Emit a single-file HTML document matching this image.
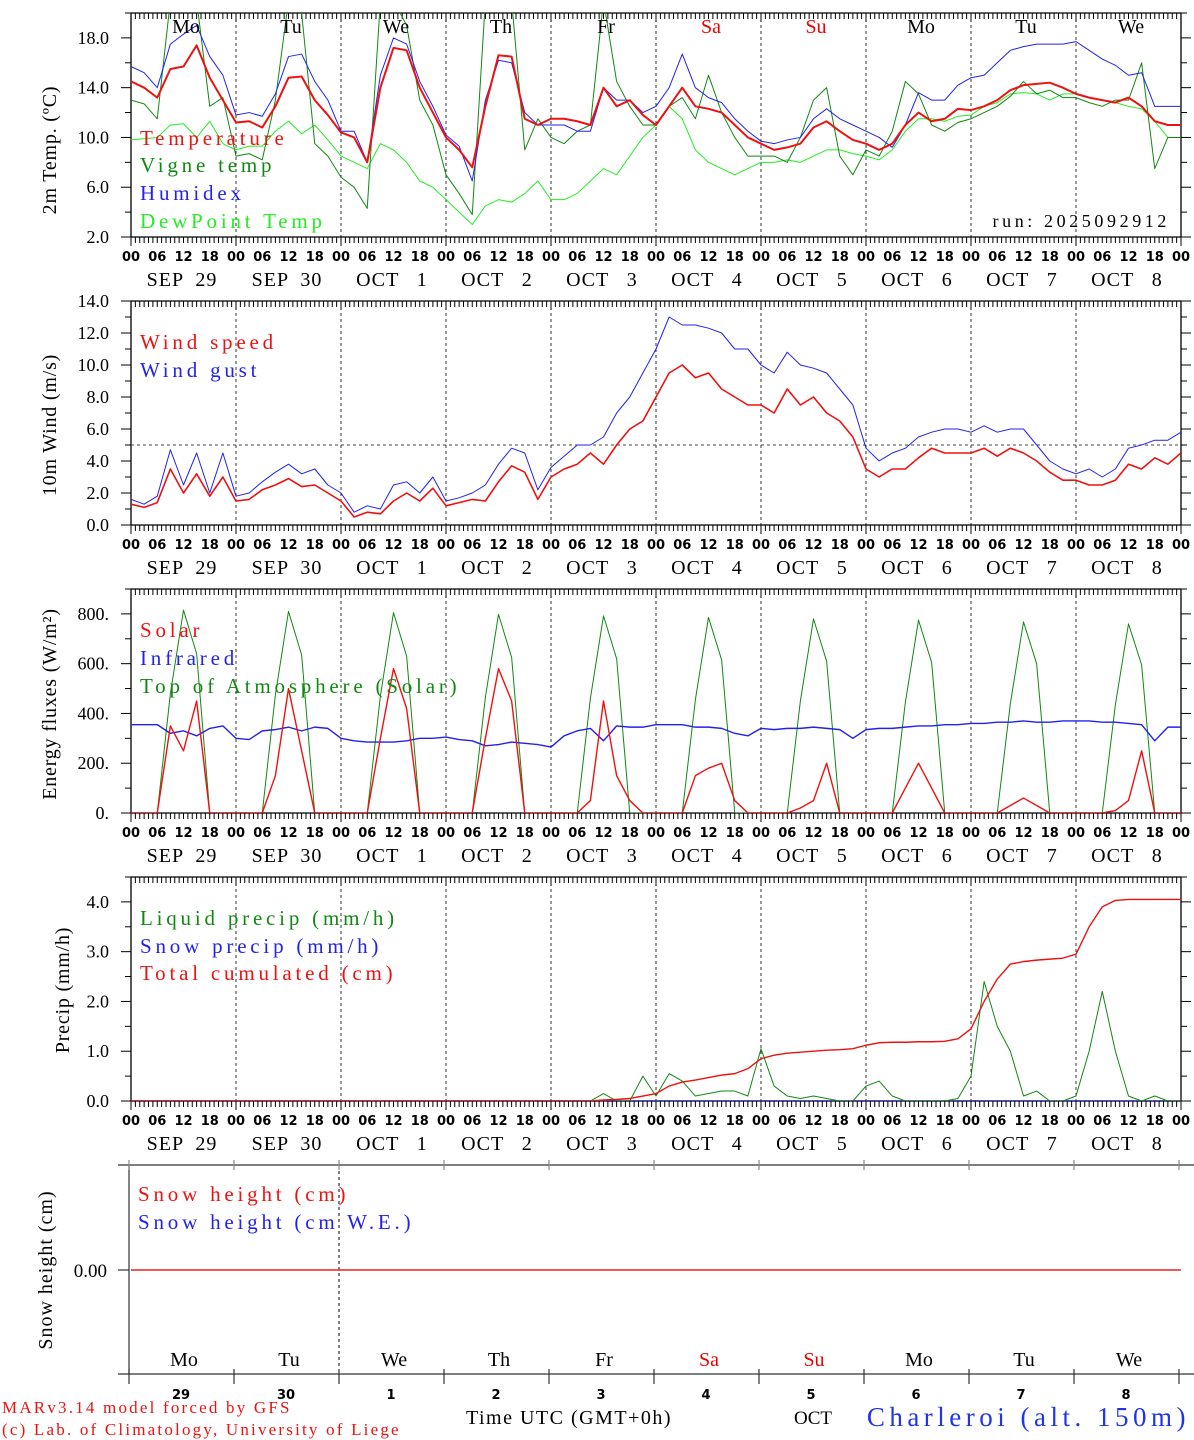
<!DOCTYPE html>
<html><head><meta charset="utf-8"><style>
html,body{margin:0;padding:0;background:#fff;}
svg{display:block;font-family:"Liberation Serif",serif;}
</style></head><body>
<svg id="chart" width="1194" height="1440" viewBox="0 0 1194 1440" xmlns="http://www.w3.org/2000/svg"></svg>
<script>
// ---- data (3-hourly, 81 points from SEP 29 00 UTC to OCT 9 00 UTC) ----
const dayNames = ["Mo","Tu","We","Th","Fr","Sa","Su","Mo","Tu","We"];
const dayColors = ["#000","#000","#000","#000","#000","#e00","#e00","#000","#000","#000"];
const dateLabels = ["SEP  29","SEP  30","OCT   1","OCT   2","OCT   3","OCT   4","OCT   5","OCT   6","OCT   7","OCT   8"];
const dayNums = ["29","30","1","2","3","4","5","6","7","8"];
const temperature = [14.5,14.0,13.2,15.5,15.7,17.4,14.8,13.0, 11.2,11.3,10.8,12.5,14.8,14.9,13.0,11.8, 10.4,10.0,8.0,14.0,17.2,17.0,14.0,12.0, 10.0,9.0,7.6,12.5,16.6,16.5,11.5,11.0, 11.5,11.5,11.3,11.0,14.0,12.5,13.0,11.8, 11.0,12.5,14.0,12.5,12.3,12.0,11.0,10.0, 9.5,9.0,9.2,9.5,10.8,11.3,10.5,9.8, 9.5,9.0,9.5,11.0,12.0,11.3,11.5,12.3, 12.2,12.5,13.0,13.8,14.2,14.3,14.4,14.0, 13.5,13.2,13.0,12.8,13.2,12.5,11.3,11.0, 11.0];
const humidex = [15.7,15.2,14.0,17.5,18.3,19.0,16.5,15.0, 11.8,12.0,11.7,13.5,16.5,16.7,14.5,13.0, 10.5,10.5,8.0,15.0,18.0,17.5,14.5,12.5, 10.2,9.3,6.5,13.0,16.2,16.0,12.0,11.0, 11.0,11.0,10.5,10.5,14.0,13.0,13.0,12.0, 12.5,14.0,16.7,14.0,13.2,12.8,11.5,10.5, 9.7,9.5,9.8,10.0,11.5,12.3,11.5,11.0, 10.5,10.0,9.2,11.0,13.6,13.0,13.0,14.2, 14.8,15.0,16.0,17.0,17.3,17.5,17.5,17.5, 17.7,17.0,16.3,15.8,15.0,15.2,12.5,12.5, 12.5];
const vigneTemp = [13.0,12.7,11.5,21,21,21,12.5,13.2, 8.5,8.7,8.2,13.0,21,20,9.5,8.5, 6.8,6.0,4.3,21,21,19,13.0,11.0, 7.0,5.5,3.8,21,21,21,9.0,11.5, 10.0,9.5,10.5,11.0,21,14.5,12.5,11.0, 11.0,12.5,13.2,11.5,15.0,12.0,10.0,8.5, 8.5,8.5,8.0,10.0,13.0,14.0,8.5,7.0, 9.0,8.5,10.5,14.5,13.5,11.0,10.5,11.2, 11.5,12.0,12.5,13.3,14.5,13.5,13.8,13.2, 13.2,12.8,12.5,13.0,13.0,16.0,7.5,10.0, 10.0];
const dewPoint = [9.8,9.9,10.0,11.0,11.1,10.0,11.3,9.5, 9.0,9.3,9.3,10.5,11.3,10.3,11.0,9.8, 8.5,8.0,7.5,9.5,9.0,8.0,6.5,6.0, 5.0,4.0,3.0,4.5,5.0,4.8,5.5,6.5, 5.0,5.0,5.5,6.5,7.5,7.0,8.5,10.0, 11.0,12.5,11.5,9.0,8.0,7.5,7.0,7.5, 8.0,8.0,8.2,8.0,8.5,9.0,9.0,8.7, 8.5,8.2,9.0,10.5,11.5,11.5,11.3,11.7, 11.8,12.5,12.8,13.5,13.6,13.5,13.0,13.5, 13.5,13.2,13.0,12.8,12.5,12.3,11.3,10.0, 10.0];
const windSpeed = [1.3,1.1,1.4,3.5,2.0,3.2,1.8,3.0, 1.5,1.6,2.2,2.5,2.9,2.4,2.5,2.0, 1.5,0.5,0.8,0.7,1.5,2.0,1.5,2.3, 1.2,1.4,1.6,1.5,2.7,3.7,3.3,1.6, 3.0,3.5,3.8,4.5,3.8,5.0,6.0,6.5, 8.0,9.5,10.0,9.2,9.5,8.5,8.0,7.5, 7.5,7.0,8.5,7.5,8.0,7.0,6.5,5.5, 3.5,3.0,3.5,3.5,4.2,4.8,4.5,4.5, 4.5,4.8,4.3,4.8,4.5,4.0,3.3,2.8, 2.8,2.5,2.5,2.8,3.8,3.5,4.2,3.8, 4.5];
const windGust = [1.6,1.3,1.8,4.7,2.5,4.5,2.0,4.5, 1.8,2.0,2.7,3.3,3.8,3.2,3.5,2.5, 2.0,0.8,1.2,1.0,2.5,2.7,2.0,3.0, 1.5,1.7,2.0,2.5,3.8,4.8,4.5,2.2, 3.6,4.3,5.0,5.0,5.5,7.0,8.0,9.5, 11.0,13.0,12.5,12.5,12.3,12.0,11.0,11.0, 10.0,9.5,10.8,10.0,9.8,9.5,8.5,7.5, 4.8,4.0,4.5,4.8,5.5,5.8,6.0,6.0, 5.8,6.2,5.8,6.0,6.0,5.0,4.0,3.5, 3.2,3.5,3.0,3.5,4.8,5.0,5.3,5.3, 5.8];
const solar = [0,0,0,350,250,450,0,0, 0,0,0,150,500,250,0,0, 0,0,0,300,580,420,0,0, 0,0,0,300,580,450,0,0, 0,0,0,50,450,150,50,0, 0,0,0,150,180,200,50,0, 0,0,0,20,50,200,0,0, 0,0,0,100,200,100,0,0, 0,0,0,30,60,30,0,0, 0,0,0,10,50,250,0,0, 0];
const infrared = [355,355,355,320,330,310,340,350, 300,295,330,335,345,330,345,340, 300,290,285,285,285,290,300,300, 305,295,290,270,275,285,280,275, 265,310,330,340,290,350,345,345, 355,355,355,345,345,340,320,310, 340,335,340,340,345,340,335,300, 335,340,340,345,350,350,355,355, 360,360,365,365,370,365,365,370, 370,370,365,365,360,355,290,345, 345];
const toaSolar = [0,0,0,480,815,640,0,0, 0,0,0,475,810,635,0,0, 0,0,0,470,805,630,0,0, 0,0,0,465,798,625,0,0, 0,0,0,460,792,620,0,0, 0,0,0,455,786,615,0,0, 0,0,0,450,780,610,0,0, 0,0,0,445,775,605,0,0, 0,0,0,440,768,600,0,0, 0,0,0,435,760,595,0,0, 0];
const liquidPrecip = [0,0,0,0,0,0,0,0, 0,0,0,0,0,0,0,0, 0,0,0,0,0,0,0,0, 0,0,0,0,0,0,0,0, 0,0,0,0,0.15,0,0,0.5, 0.1,0.55,0.4,0.1,0.15,0.2,0.2,0.1, 1.05,0.3,0.1,0.05,0.1,0.05,0,0, 0.3,0.4,0.1,0,0,0,0,0.05, 0.5,2.4,1.5,1.0,0.1,0.2,0,0, 0.1,1.0,2.2,1.0,0.1,0,0.1,0, 0];
const snowPrecip = new Array(81).fill(0);
const totalCumulated = [0,0,0,0,0,0,0,0, 0,0,0,0,0,0,0,0, 0,0,0,0,0,0,0,0, 0,0,0,0,0,0,0,0, 0,0,0,0,0.02,0.03,0.05,0.1, 0.15,0.3,0.38,0.42,0.47,0.52,0.55,0.65, 0.85,0.92,0.96,0.98,1.0,1.02,1.03,1.05, 1.12,1.17,1.18,1.18,1.19,1.19,1.2,1.25, 1.45,2.0,2.45,2.75,2.8,2.83,2.85,2.87, 2.95,3.5,3.9,4.03,4.05,4.05,4.05,4.05, 4.05];
const snowHeight = new Array(81).fill(0);

const NS = "http://www.w3.org/2000/svg";
const svg = document.getElementById("chart");
const X0 = 131, DAYW = 105, X1 = 1181;
function xAt(i){ return X0 + i * DAYW / 8; }
function el(tag, parent){ const e = document.createElementNS(NS, tag); (parent||svg).appendChild(e); return e; }
function txt(s, x, y, size, color, anchor, name, extra){
  const t = el("text");
  t.setAttribute("x", x); t.setAttribute("y", y);
  t.setAttribute("font-size", size); t.setAttribute("fill", color);
  t.setAttribute("text-anchor", anchor || "start");
  if (extra) t.setAttribute("style", extra);
  t.textContent = s;
  
  
  return t;
}
function ln(x1,y1,x2,y2,color,w,dash,name){
  const l = el("line");
  l.setAttribute("x1",x1); l.setAttribute("y1",y1); l.setAttribute("x2",x2); l.setAttribute("y2",y2);
  l.setAttribute("stroke",color); l.setAttribute("stroke-width",w);
  if (dash) l.setAttribute("stroke-dasharray",dash);
  
  
  return l;
}

const panels = [
  {id:"temp", top:13, bot:237, vmin:2, vmax:20, labels:[2,6,10,14,18], minor:2, fmt:v=>v.toFixed(1), title:"2m Temp. (ºC)", tx:50, ty:150},
  {id:"wind", top:301, bot:525, vmin:0, vmax:14, labels:[0,2,4,6,8,10,12,14], minor:1, fmt:v=>v.toFixed(1), title:"10m Wind (m/s)", tx:50, ty:425},
  {id:"energy", top:589, bot:813, vmin:0, vmax:900, labels:[0,200,400,600,800], minor:100, fmt:v=>v+".", title:"Energy fluxes (W/m²)", tx:50, ty:704},
  {id:"precip", top:877, bot:1101, vmin:0, vmax:4.5, labels:[0,1,2,3,4], minor:0.5, fmt:v=>v.toFixed(1), title:"Precip (mm/h)", tx:63, ty:990}
];
function yScale(p){ return v => p.bot - (v - p.vmin) * (p.bot - p.top) / (p.vmax - p.vmin); }

const defs = el("defs");
panels.forEach(p => {
  const cp = el("clipPath", defs); cp.setAttribute("id","clip-"+p.id);
  const r = el("rect", cp); r.setAttribute("x",X0); r.setAttribute("y",p.top); r.setAttribute("width",X1-X0); r.setAttribute("height",p.bot-p.top);
});

function series(p, arr, color, w, name){
  const y = yScale(p);
  let d = "";
  arr.forEach((v,i)=>{ d += (i? "L":"M") + xAt(i).toFixed(2) + "," + y(v).toFixed(2); });
  const path = el("path");
  path.setAttribute("d", d); path.setAttribute("fill","none");
  path.setAttribute("stroke", color); path.setAttribute("stroke-width", w);
  path.setAttribute("stroke-linejoin","round");
  path.setAttribute("clip-path","url(#clip-"+p.id+")");
  
  
}

function frame(p){
  const y = yScale(p);
  for (let d=1; d<10; d++) ln(X0+d*DAYW, p.top, X0+d*DAYW, p.bot, "#333", 1, "3,3", "day-divider");
  ln(X0, p.top, X1, p.top, "#000", 1.3, null, "plot-top-border");
  ln(X0, p.bot, X1, p.bot, "#000", 1.3, null, "x-axis");
  ln(X0, p.top, X0, p.bot, "#000", 1.3, null, "y-axis");
  ln(X1, p.top, X1, p.bot, "#000", 1.3, null, "y-axis-right");
  for (let h=0; h<=240; h++){
    const x = X0 + h*DAYW/24;
    const L = (h%24===0) ? 9 : 6;
    ln(x, p.top, x, p.top+L, "#000", 1, null, "x-tick-top");
    ln(x, p.bot, x, p.bot+L, "#000", 1, null, "x-tick");
  }
  for (let v=p.vmin; v<=p.vmax+1e-9; v+=p.minor){
    const major = p.labels.some(l=>Math.abs(l-v)<1e-9);
    const L = major ? 10 : 6;
    ln(X0-L, y(v), X0, y(v), "#000", 1, null, "y-tick");
    ln(X1, y(v), X1+L, y(v), "#000", 1, null, "y-tick-right");
  }
  p.labels.forEach(v => txt(p.fmt(v), X0-22, y(v)+6, 18, "#000", "end", "y-tick-label"));
  for (let d=0; d<=10; d++){
    ["00","06","12","18"].forEach((s,k)=>{
      if (d===10 && k>0) return;
      txt(s, X0+d*DAYW+k*DAYW/4, p.bot+24, 13, "#000", "middle", "x-hour-label", "font-family:'DejaVu Sans',sans-serif;font-weight:bold;");
    });
  }
  dateLabels.forEach((s,d)=> txt(s, X0+d*DAYW+51, p.bot+49, 20, "#000", "middle", "x-date-label", "white-space:pre;letter-spacing:1px;"));
  const t = txt(p.title, 0, 0, 20, "#000", "middle", "y-axis-title", "letter-spacing:0.8px;");
  t.setAttribute("transform", "translate("+(p.tx+6)+","+p.ty+") rotate(-90)");
}
panels.forEach(frame);

function legend(s, x, y, color, name){ txt(s, x, y, 21, color, "start", name, "letter-spacing:3.8px;white-space:pre;"); }

// Panel 1
const P1 = panels[0];
series(P1, dewPoint, "#22ee22", 1, "dewpoint-line");
series(P1, vigneTemp, "#118811", 1, "vigne-temp-line");
series(P1, humidex, "#2222ee", 1, "humidex-line");
series(P1, temperature, "#ee1111", 2, "temperature-line");
dayNames.forEach((s,d)=> txt(s, X0+d*DAYW+55, 33, 20, dayColors[d], "middle", "weekday-label"));
legend("Temperature", 140, 145, "#ee1111", "legend-temperature");
legend("Vigne temp", 140, 172, "#118811", "legend-vigne-temp");
legend("Humidex", 140, 200, "#2222ee", "legend-humidex");
legend("DewPoint Temp", 140, 228, "#22ee22", "legend-dewpoint");
txt("run: 2025092912", 1170, 227, 18, "#000", "end", "run-label", "letter-spacing:3.6px;");

// Panel 2
const P2 = panels[1];
const y2 = yScale(P2);
ln(X0, y2(5), X1, y2(5), "#444", 1, "3,3", "wind-threshold-line");
series(P2, windGust, "#2222ee", 1, "wind-gust-line");
series(P2, windSpeed, "#ee1111", 1.6, "wind-speed-line");
legend("Wind speed", 140, 349, "#ee1111", "legend-wind-speed");
legend("Wind gust", 140, 377, "#2222ee", "legend-wind-gust");

// Panel 3
const P3 = panels[2];
series(P3, toaSolar, "#118811", 1, "toa-solar-line");
series(P3, infrared, "#2222ee", 1.4, "infrared-line");
series(P3, solar, "#ee1111", 1.4, "solar-line");
legend("Solar", 140, 637, "#ee1111", "legend-solar");
legend("Infrared", 140, 665, "#2222ee", "legend-infrared");
legend("Top of Atmosphere (Solar)", 140, 693, "#118811", "legend-toa-solar");

// Panel 4
const P4 = panels[3];
series(P4, snowPrecip, "#2222ee", 1.4, "snow-precip-line");
series(P4, liquidPrecip, "#118811", 1, "liquid-precip-line");
series(P4, totalCumulated, "#ee1111", 1.4, "total-cumulated-line");
legend("Liquid precip (mm/h)", 140, 925, "#118811", "legend-liquid-precip");
legend("Snow precip (mm/h)", 140, 953, "#2222ee", "legend-snow-precip");
legend("Total cumulated (cm)", 140, 980, "#ee1111", "legend-total-cumulated");

// Panel 5
const P5x0 = 129, P5top = 1165, P5bot = 1374, P5y0 = 1270;
ln(118, P5top, 1194, P5top, "#333", 1.2, null, "snow-plot-top-border");
ln(118, P5bot, 1194, P5bot, "#333", 1.2, null, "snow-x-axis");
ln(P5x0, P5top, P5x0, P5bot, "#333", 1.2, null, "snow-y-axis");
ln(118, P5y0, P5x0, P5y0, "#333", 1.2, null, "snow-y-tick");
ln(P5x0+2*DAYW, P5top, P5x0+2*DAYW, 1385, "#000", 1, "3,3", "snow-day-divider");
for (let d=0; d<=10; d++){
  const x = P5x0 + d*DAYW;
  ln(x, P5top-5, x, P5top+5, "#888", 1.2, null, "snow-x-tick-top");
  ln(x, P5bot-5, x, P5bot+10, "#333", 1.2, null, "snow-x-tick");
}
const snowScaleY = v => P5y0 - v * 100;
let sd = "";
snowHeight.forEach((v,i)=>{ sd += (i?"L":"M") + (P5x0 + 2 + i*DAYW/8).toFixed(2) + "," + snowScaleY(v).toFixed(2); });
const snowPath = el("path");
snowPath.setAttribute("d", sd); snowPath.setAttribute("fill","none"); snowPath.setAttribute("stroke","#ee2222"); snowPath.setAttribute("stroke-width",1.6);


txt("0.00", 107, 1277, 19, "#000", "end", "snow-y-tick-label");
const st = txt("Snow height (cm)", 0, 0, 20, "#000", "middle", "snow-y-axis-title", "letter-spacing:1px;");
st.setAttribute("transform","translate(52,1270) rotate(-90)");
legend("Snow height (cm)", 138, 1201, "#ee1111", "legend-snow-height");
legend("Snow height (cm W.E.)", 138, 1229, "#2222ee", "legend-snow-we");
dayNames.forEach((s,d)=> txt(s, P5x0+d*DAYW+55, 1366, 20, dayColors[d], "middle", "snow-weekday-label"));
dayNums.forEach((s,d)=> txt(s, P5x0+d*DAYW+52, 1399, 13, "#000", "middle", "snow-day-number", "font-family:'DejaVu Sans',sans-serif;font-weight:bold;"));
txt("Time UTC (GMT+0h)", 569, 1424, 20, "#000", "middle", "x-axis-title", "letter-spacing:1.5px;");
txt("OCT", 813, 1424, 19, "#000", "middle", "month-label");
txt("Charleroi (alt. 150m)", 1190, 1426, 27, "#2233ee", "end", "station-title", "letter-spacing:4.5px;");
txt("MARv3.14 model forced by GFS", 2, 1413, 17, "#ee1111", "start", "model-credit", "letter-spacing:2.2px;");
txt("(c) Lab. of Climatology, University of Liege", 2, 1435, 17, "#ee1111", "start", "lab-credit", "letter-spacing:2.2px;");
</script>
</body></html>
